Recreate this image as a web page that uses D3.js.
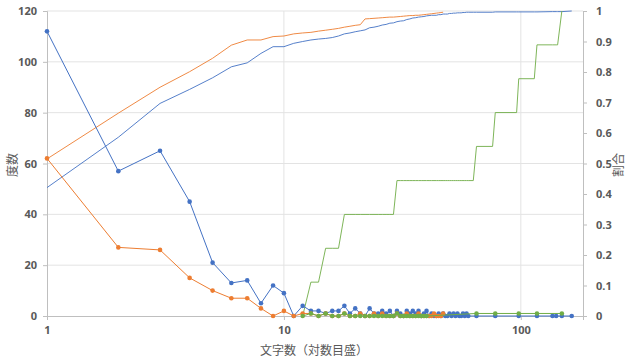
<!DOCTYPE html>
<html>
<head>
<meta charset="utf-8">
<script src="https://cdn.jsdelivr.net/npm/d3@7"></script>
<style>
  body { margin: 0; background: #fff; }
  text { font-family: "Noto Sans", "Liberation Sans", sans-serif; }
</style>
</head>
<body>
<div id="vis1"></div>
<script>
// character counts (x, log scale)
let charCounts = [
  1, 2, 3, 4, 5, 6, 7, 8, 9, 10,
  11, 12, 13, 14, 15, 16, 17, 18, 19, 20,
  21, 22, 23, 24, 25, 26, 27, 28, 29, 30,
  31, 32, 33, 34, 35, 36, 37, 38, 39, 40,
  41, 42, 43, 44, 45, 46, 47, 48, 49, 50,
  51, 52, 53, 54, 55, 56, 57, 58, 59, 60,
  63, 65, 76, 78, 96, 98, 114, 117, 136, 141, 143, 149, 164
];

// frequencies (left axis)
let blueCounts = [
  112, 57, 65, 45, 21, 13, 14, 5, 12, 9,
  0, 4, 2, 2, 1, 2, 2, 4, 1, 3,
  1, 0, 3, 1, 1, 2, 1, 2, 0, 2,
  1, 0, 2, 1, 2, 1, 2, 0, 1, 2,
  0, 1, 0, 0, 1, 0, 1, 0, 0, 1,
  0, 1, 0, 1, 0, 0, 1, 0, 1, 0,
  null, 0, null, 0, null, 0, null, 0, 0, 0, null, 0, 0
];
let orangeCounts = [
  62, 27, 26, 15, 10, 7, 7, 3, 0, 2,
  0, 1, 1, 0, 1, 0, 0, 1, 0, 0,
  1, 0, 0, 1, 0, 1, 0, 0, 0, 1,
  0, 0, 1, 0, 0, 0, 1, 0, 0, 0,
  0, 0, 1, 0, 0, 0, 1, null, null, null,
  null, null, null, null, null, null, null, null, null, null,
  null, null, null, null, null, null, null, null, null, null, null, null, null
];
let greenCounts = [
  null, null, null, null, null, null, null, null, null, null,
  null, 0, 1, 0, 1, 0, 0, 1, 0, 0,
  0, 0, 0, 0, 0, 0, 0, 0, 0, 1,
  0, 0, 0, 0, 0, 0, 0, 0, 0, 0,
  null, null, null, null, null, null, null, null, null, null,
  null, null, null, null, null, null, null, null, null, null,
  null, 1, null, 1, null, 1, null, 1, null, null, null, 1, null
];

// cumulative share (right axis)
let blueShare = [
  .421, .586, .697, .743, .781, .817, .830, .861, .883, .883,
  .894, .900, .905, .908, .910, .913, .918, .925, .928, .932,
  .935, .938, .945, .947, .950, .954, .956, .960, .961, .965,
  .967, .968, .972, .974, .977, .978, .980, .981, .982, .984,
  .985, .986, .986, .986, .988, .988, .990, .990, .990, .992,
  .992, .993, .993, .994, .994, .994, .995, .995, .996, .996,
  .996, .996, .996, .997, .997, .997, .997, .997, .998, .998, .998, .998, 1
];
let orangeShare = [
  .515, .665, .750, .801, .845, .888, .905, .905, .916, .918,
  .925, .928, .930, .934, .937, .940, .943, .947, .950, .953,
  .955, .974, .975, .976, .977, .978, .979, .980, .980, .981,
  .982, .983, .984, .985, .985, .986, .986, .987, .988, .989,
  .990, .991, .992, .993, .994, .995, .996, null, null, null,
  null, null, null, null, null, null, null, null, null, null,
  null, null, null, null, null, null, null, null, null, null, null, null, null
];
let greenShare = [
  null, null, null, null, null, null, null, null, null, null,
  null, 0, .111, .111, .222, .222, .222, .333, .333, .333,
  .333, .333, .333, .333, .333, .333, .333, .333, .333, .444,
  .444, .444, .444, .444, .444, .444, .444, .444, .444, .444,
  .444, .444, .444, .444, .444, .444, .444, .444, .444, .444,
  .444, .444, .444, .444, .444, .444, .444, .444, .444, .444,
  .444, .556, .556, .667, .667, .778, .778, .889, .889, .889, .889, 1, null
];

let xTicks = [1, 10, 100];
let leftTicks = [0, 20, 40, 60, 80, 100, 120];
let rightTicks = [0, 0.1, 0.2, 0.3, 0.4, 0.5, 0.6, 0.7, 0.8, 0.9, 1];

let margin = { top: 11, left: 47, right: 48, bottom: 42 },
  width = 631 - margin.left - margin.right,
  height = 358 - margin.top - margin.bottom;

let svg = d3.select('#vis1')
  .append('svg')
  .attr('width', 631)
  .attr('height', 358);

let g = svg.append('g')
  .attr('transform', 'translate(' + margin.left + ',' + margin.top + ')');

let x = d3.scaleLog().domain([1, 183]).range([0, width]);
let y = d3.scaleLinear().domain([0, 120]).range([height, 0]);
let y2 = d3.scaleLinear().domain([0, 1]).range([height, 0]);

// gridlines
g.append('g')
  .selectAll('line')
  .data(leftTicks.slice(1))
  .enter().append('line')
  .attr('x1', 0).attr('x2', width)
  .attr('y1', function(d) { return y(d); })
  .attr('y2', function(d) { return y(d); })
  .attr('stroke', '#e3e3e3');
g.append('g')
  .selectAll('line')
  .data(xTicks.slice(1))
  .enter().append('line')
  .attr('x1', function(d) { return x(d); })
  .attr('x2', function(d) { return x(d); })
  .attr('y1', 0).attr('y2', height)
  .attr('stroke', '#e3e3e3');

// axes
function styleAxis(sel) {
  sel.select('.domain').attr('stroke', '#bfbfbf');
  sel.selectAll('.tick line').attr('stroke', '#bfbfbf');
  sel.selectAll('.tick text')
    .attr('fill', '#595959')
    .style('font-size', '11px')
    .style('font-weight', 'bold');
}

g.append('g')
  .attr('transform', 'translate(0,' + height + ')')
  .call(d3.axisBottom(x).tickValues(xTicks).tickFormat(d3.format('d')).tickSizeOuter(0).tickSize(4).tickPadding(6))
  .call(styleAxis);

g.append('g')
  .call(d3.axisLeft(y).tickValues(leftTicks).tickSizeOuter(0).tickSize(4).tickPadding(6))
  .call(styleAxis);

g.append('g')
  .attr('transform', 'translate(' + width + ',0)')
  .call(d3.axisRight(y2).tickValues(rightTicks).tickFormat(function(d) { return d === 0 || d === 1 ? d : d3.format('.1f')(d); }).tickSizeOuter(0).tickSize(4).tickPadding(9))
  .call(styleAxis);

// zip x values with a series, dropping missing points
function pairs(vals) {
  return charCounts.map(function(c, i) { return [c, vals[i]]; })
    .filter(function(p) { return p[1] !== null; });
}

let lineLeft = d3.line()
  .x(function(d) { return x(d[0]); })
  .y(function(d) { return y(d[1]); });
let lineRight = d3.line()
  .x(function(d) { return x(d[0]); })
  .y(function(d) { return y2(d[1]); });

let blue = '#4472C4', orange = '#ED7D31', green = '#70AD47';

// cumulative share lines
[[blueShare, blue], [orangeShare, orange], [greenShare, green]].forEach(function(s) {
  g.append('path')
    .datum(pairs(s[0]))
    .attr('fill', 'none')
    .attr('stroke', s[1])
    .attr('stroke-width', 1)
    .attr('stroke-opacity', 0.9)
    .attr('d', lineRight);
});

// frequency lines with markers
[[blueCounts, blue], [orangeCounts, orange], [greenCounts, green]].forEach(function(s) {
  let pts = pairs(s[0]);
  g.append('path')
    .datum(pts)
    .attr('fill', 'none')
    .attr('stroke', s[1])
    .attr('stroke-width', 1)
    .attr('d', lineLeft);
  g.append('g')
    .selectAll('circle')
    .data(pts)
    .enter().append('circle')
    .attr('cx', function(d) { return x(d[0]); })
    .attr('cy', function(d) { return y(d[1]); })
    .attr('r', 2.3)
    .attr('fill', s[1]);
});

// axis titles
svg.append('text')
  .attr('x', 314)
  .attr('y', 355)
  .attr('text-anchor', 'middle')
  .attr('fill', '#595959')
  .style('font-size', '12px')
  .style('font-family', '"Noto Sans CJK JP", sans-serif')
  .text('文字数（対数目盛）');

svg.append('text')
  .attr('transform', 'translate(17,165) rotate(-90)')
  .attr('text-anchor', 'middle')
  .attr('fill', '#595959')
  .style('font-size', '12px')
  .style('font-family', '"Noto Sans CJK JP", sans-serif')
  .text('度数');

svg.append('text')
  .attr('transform', 'translate(623,165) rotate(-90)')
  .attr('text-anchor', 'middle')
  .attr('fill', '#595959')
  .style('font-size', '12px')
  .style('font-family', '"Noto Sans CJK JP", sans-serif')
  .text('割合');
</script>
</body>
</html>
